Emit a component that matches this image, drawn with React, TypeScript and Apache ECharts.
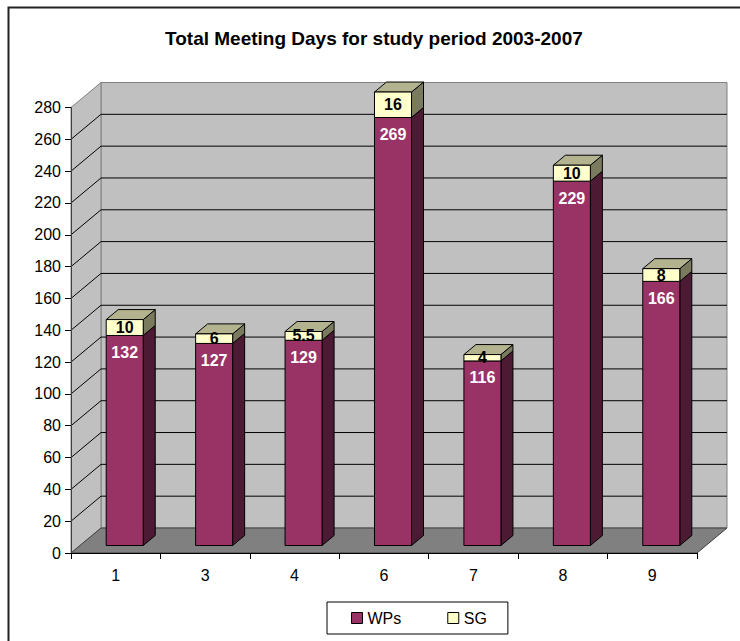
import React, { useEffect, useRef } from "react";
import * as echarts from "echarts";

const categories = ["1", "3", "4", "6", "7", "8", "9"];
const wpsValues = [132, 127, 129, 269, 116, 229, 166];
const sgValues = [10, 6, 5.5, 16, 4, 10, 8];
const seriesNames = ["WPs", "SG"];
const titleText = "Total Meeting Days for study period 2003-2007";
const Y_MIN = 0;
const Y_MAX = 280;
const Y_STEP = 20;

const FONT = "'Liberation Sans', Arial, Helvetica, sans-serif";
const DX = 30; // wall depth x
const DY = 25; // wall depth y
const BAR_FRONT = 0.3; // bar front position as fraction of depth
const BAR_DEPTH = 0.4;
const BAR_WIDTH = 0.414;

const WP_FRONT = "#993366";
const WP_SIDE = "#4d1a33";
const SG_FRONT = "#ffffcc";
const SG_TOP = "#b3b38f";
const SG_SIDE = "#7a7a5e";

function wallRender(params: any, api: any) {
  const bw = api.size([1, 0])[0];
  const p0 = api.coord([0, Y_MIN]);
  const left = p0[0] - bw / 2;
  const right = left + bw * categories.length;
  const yBase = p0[1];
  const yTop = api.coord([0, Y_MAX])[1];
  const children: any[] = [];
  children.push({
    type: "rect",
    shape: { x: left + DX, y: yTop - DY, width: right - left, height: yBase - yTop },
    style: { fill: "#c0c0c0", stroke: "#808080", lineWidth: 1 },
  });
  children.push({
    type: "polygon",
    shape: { points: [[left, yBase], [left, yTop], [left + DX, yTop - DY], [left + DX, yBase - DY]] },
    style: { fill: "#c0c0c0", stroke: "#808080", lineWidth: 1 },
  });
  children.push({
    type: "polygon",
    shape: { points: [[left, yBase], [right, yBase], [right + DX, yBase - DY], [left + DX, yBase - DY]] },
    style: { fill: "#808080", stroke: "#404040", lineWidth: 1 },
  });
  for (let v = Y_MIN + Y_STEP; v < Y_MAX; v += Y_STEP) {
    const y = api.coord([0, v])[1];
    children.push({
      type: "polyline",
      shape: { points: [[left, y], [left + DX, y - DY], [right + DX, y - DY]] },
      style: { stroke: "#000", lineWidth: 1, fill: null },
    });
  }
  return { type: "group", children };
}

function makeBarRender(kind: "wp" | "sg") {
  return function (params: any, api: any) {
    const idx = api.value(0);
    const lo = api.value(1);
    const hi = api.value(2);
    const bw = api.size([1, 0])[0];
    const c = api.coord([idx, lo]);
    const cHi = api.coord([idx, hi]);
    const ox = DX * BAR_FRONT;
    const oy = -DY * BAR_FRONT;
    const dx = DX * BAR_DEPTH;
    const dy = DY * BAR_DEPTH;
    const w = bw * BAR_WIDTH;
    const x0 = c[0] - w / 2 + ox;
    const x1 = x0 + w;
    const yA = c[1] + oy;
    const yB = cHi[1] + oy;
    const front = kind === "wp" ? WP_FRONT : SG_FRONT;
    const side = kind === "wp" ? WP_SIDE : SG_SIDE;
    const children: any[] = [];
    children.push({
      type: "polygon",
      shape: { points: [[x1, yA], [x1 + dx, yA - dy], [x1 + dx, yB - dy], [x1, yB]] },
      style: { fill: side, stroke: "#000", lineWidth: 1 },
    });
    if (kind === "sg") {
      children.push({
        type: "polygon",
        shape: { points: [[x0, yB], [x1, yB], [x1 + dx, yB - dy], [x0 + dx, yB - dy]] },
        style: { fill: SG_TOP, stroke: "#000", lineWidth: 1 },
      });
    }
    children.push({
      type: "rect",
      shape: { x: x0, y: yB, width: w, height: yA - yB },
      style: { fill: front, stroke: "#000", lineWidth: 1 },
    });
    const labelVal = kind === "wp" ? wpsValues[idx] : sgValues[idx];
    children.push({
      type: "text",
      z2: 10,
      style: {
        text: String(labelVal),
        x: (x0 + x1) / 2,
        y: kind === "wp" ? yB + 17 : (yA + yB) / 2,
        align: "center",
        verticalAlign: "middle",
        fill: kind === "wp" ? "#fff" : "#000",
        fontSize: 16,
        fontWeight: "bold",
        fontFamily: FONT,
      },
    });
    return { type: "group", children };
  };
}

export default function App() {
  const ref = useRef<HTMLDivElement>(null);
  useEffect(() => {
    document.body.style.margin = "0";
    if (!ref.current) return;
    const chart = echarts.init(ref.current, null, { renderer: "svg" });
    const wpData = wpsValues.map((v, i) => [i, 0, v]);
    const sgData = sgValues.map((v, i) => [i, wpsValues[i], wpsValues[i] + v]);
    chart.setOption({
      animation: false,
      backgroundColor: "#fff",
      title: {
        text: titleText,
        left: 165,
        top: 29,
        padding: 0,
        textStyle: { fontSize: 19, fontWeight: "bold", color: "#000", fontFamily: FONT },
      },
      graphic: [
        {
          type: "rect",
          left: 6,
          top: 5,
          shape: { x: 0, y: 0, width: 800, height: 700 },
          style: { fill: "none", stroke: "#222", lineWidth: 2 },
          silent: true,
        },
      ],
      legend: {
        data: [
          { name: seriesNames[0], icon: "rect", itemStyle: { color: WP_FRONT, borderColor: "#000", borderWidth: 1 } },
          { name: seriesNames[1], icon: "rect", itemStyle: { color: SG_FRONT, borderColor: "#000", borderWidth: 1 } },
        ],
        left: 327,
        top: 602,
        itemWidth: 11,
        itemHeight: 11,
        itemGap: 46,
        padding: [8, 21, 8, 24],
        borderColor: "#000",
        borderWidth: 1,
        selectedMode: false,
        textStyle: { fontSize: 16, color: "#000", fontFamily: FONT },
      },
      grid: { left: 71, right: 43, top: 107.5, bottom: 88, containLabel: false },
      xAxis: {
        type: "category",
        data: categories,
        boundaryGap: true,
        axisLine: { show: true, lineStyle: { color: "#000", width: 1 } },
        axisTick: { show: true, alignWithLabel: false, length: 6, lineStyle: { color: "#000" } },
        axisLabel: { fontSize: 16, color: "#000", fontFamily: FONT, margin: 14 },
        splitLine: { show: false },
        z: 5,
      },
      yAxis: {
        type: "value",
        min: Y_MIN,
        max: Y_MAX,
        interval: Y_STEP,
        axisLine: { show: true, lineStyle: { color: "#404040", width: 1 } },
        axisTick: { show: true, length: 6, lineStyle: { color: "#000" } },
        axisLabel: { fontSize: 16, color: "#000", fontFamily: FONT, margin: 10 },
        splitLine: { show: false },
        z: 5,
      },
      series: [
        {
          type: "custom",
          name: "walls",
          renderItem: wallRender,
          data: [[0, 0]],
          clip: false,
          z: 1,
          silent: true,
        },
        {
          type: "custom",
          name: seriesNames[0],
          renderItem: makeBarRender("wp"),
          data: wpData,
          itemStyle: { color: WP_FRONT },
          clip: false,
          z: 2,
        },
        {
          type: "custom",
          name: seriesNames[1],
          renderItem: makeBarRender("sg"),
          data: sgData,
          itemStyle: { color: SG_FRONT },
          clip: false,
          z: 3,
        },
      ],
    });
    return () => chart.dispose();
  }, []);
  return <div ref={ref} style={{ width: 740, height: 641 }} />;
}
